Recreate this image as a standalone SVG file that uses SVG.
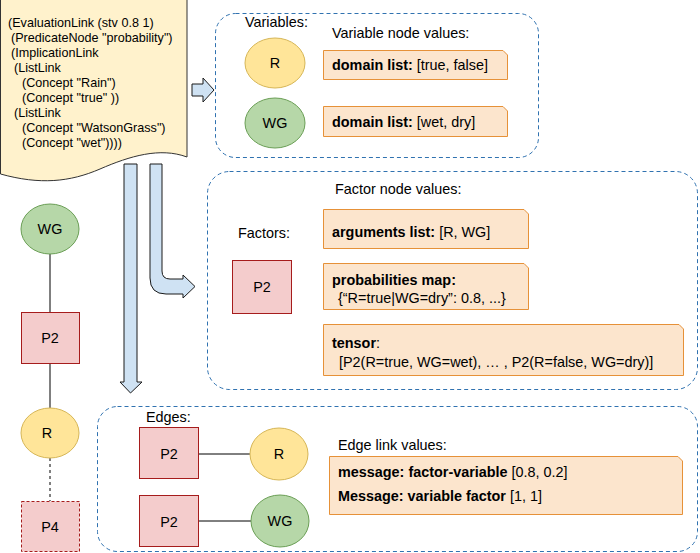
<svg xmlns="http://www.w3.org/2000/svg" width="700" height="553" viewBox="0 0 700 553">
<style>
text{font-family:"Liberation Sans",Arial,sans-serif;fill:#000}
.lbl{font-size:14.4px}
.doc{font-size:12.6px}
.b{font-weight:bold}
.grp{fill:none;stroke:#3072b0;stroke-width:1;stroke-dasharray:4 3}
.note{fill:#fce5cd;stroke:#e69138;stroke-width:1}
.var-r{fill:#ffe599;stroke:#d6b656}
.var-wg{fill:#b6d7a8;stroke:#6a9e55}
.fac{fill:#f4cccc;stroke:#a61c1c}
.arr{fill:#cfe2f3;stroke:#1a1a1a;stroke-width:1}
.edge{stroke:#000;stroke-width:1;fill:none}
</style>

<!-- group containers -->
<rect id="variables-box" class="grp" x="215.5" y="13.5" width="323" height="144" rx="20"/>
<rect id="factors-box" class="grp" x="207.5" y="171.5" width="490" height="218" rx="22"/>
<rect id="edges-box" class="grp" x="97.5" y="406.5" width="600" height="145" rx="20"/>

<g id="connectors">
  <path class="arr" d="M192,84 H203 V78 L214,90 L203,102 V96 H192 Z"/>
  <path class="arr" d="M124,164 H137 V382 H142 L130.5,393 L120,382 H124 Z"/>
  <path class="arr" d="M150,164 H162 V271 Q162,279 170,279 H183 V275 L195,286.5 L183,298 V294 H166 Q150,294 150,278 Z"/>
  <line class="edge" x1="50" y1="254" x2="50" y2="312"/>
  <line class="edge" x1="50" y1="363" x2="50" y2="408"/>
  <line class="edge" x1="50" y1="458" x2="50" y2="501" stroke-dasharray="3 3"/>
  <line class="edge" x1="198" y1="454" x2="250" y2="454"/>
  <line class="edge" x1="198" y1="521" x2="251" y2="521"/>
</g>

<g id="atomese-doc">
  <path d="M0.5,-1 H187 V157 C160,147 130,156 100,169 C70,182 40,185 0.5,174 Z" fill="#fff2cc" stroke="#333" stroke-width="1"/>
  <text class="doc" x="8" y="27">(EvaluationLink (stv 0.8 1)</text>
  <text class="doc" x="11" y="42">(PredicateNode "probability")</text>
  <text class="doc" x="11" y="57">(ImplicationLink</text>
  <text class="doc" x="14" y="72">(ListLink</text>
  <text class="doc" x="22" y="87">(Concept "Rain")</text>
  <text class="doc" x="22" y="102">(Concept "true" ))</text>
  <text class="doc" x="14" y="117">(ListLink</text>
  <text class="doc" x="22" y="132">(Concept "WatsonGrass")</text>
  <text class="doc" x="22" y="147">(Concept "wet"))))</text>
</g>

<g id="labels">
  <text class="lbl" x="245" y="27">Variables:</text>
  <text class="lbl" x="332" y="38">Variable node values:</text>
  <text class="lbl" x="335" y="194">Factor node values:</text>
  <text class="lbl" x="238" y="238">Factors:</text>
  <text class="lbl" x="146" y="422">Edges:</text>
  <text class="lbl" x="338" y="450">Edge link values:</text>
</g>

<g id="var-R">
  <ellipse class="var-r" cx="275" cy="63" rx="30" ry="25"/>
  <text class="lbl" x="275" y="68" text-anchor="middle">R</text>
</g>
<g id="var-WG">
  <ellipse class="var-wg" cx="275" cy="123" rx="30" ry="25"/>
  <text class="lbl" x="275" y="128" text-anchor="middle">WG</text>
</g>

<g id="note-domain-R">
  <path class="note" d="M323.5,50.5 H503 L507.5,55 V79.5 H323.5 Z"/>
  <text class="lbl" x="332" y="70"><tspan class="b">domain list:</tspan> [true, false]</text>
</g>
<g id="note-domain-WG">
  <path class="note" d="M323.5,106.5 H503 L507.5,111 V136.5 H323.5 Z"/>
  <text class="lbl" x="332" y="127"><tspan class="b">domain list:</tspan> [wet, dry]</text>
</g>

<g id="factor-P2">
  <rect class="fac" x="232.5" y="260.5" width="59" height="53"/>
  <text class="lbl" x="262" y="292" text-anchor="middle">P2</text>
</g>

<g id="note-args">
  <path class="note" d="M323.5,209.5 H524 L528.5,214 V248.5 H323.5 Z"/>
  <text class="lbl" x="332" y="237"><tspan class="b">arguments list:</tspan> [R, WG]</text>
</g>
<g id="note-probs">
  <path class="note" d="M323.5,263.5 H524 L528.5,268 V309.5 H323.5 Z"/>
  <text class="lbl b" x="332" y="285">probabilities map:</text>
  <text class="lbl" x="338" y="303">{“R=true|WG=dry”: 0.8, ...}</text>
</g>
<g id="note-tensor">
  <path class="note" d="M323.5,324.5 H679 L683.5,329 V375.5 H323.5 Z"/>
  <text class="lbl" x="332" y="348"><tspan class="b">tensor</tspan>:</text>
  <text class="lbl" x="339" y="367">[P2(R=true, WG=wet), … , P2(R=false, WG=dry)]</text>
</g>

<g id="left-WG">
  <ellipse class="var-wg" cx="50" cy="229" rx="29" ry="25"/>
  <text class="lbl" x="50" y="234" text-anchor="middle">WG</text>
</g>
<g id="left-P2">
  <rect class="fac" x="21.5" y="312.5" width="58" height="51"/>
  <text class="lbl" x="50" y="343" text-anchor="middle">P2</text>
</g>
<g id="left-R">
  <ellipse class="var-r" cx="50" cy="433" rx="29" ry="25"/>
  <text class="lbl" x="47" y="438" text-anchor="middle">R</text>
</g>
<g id="left-P4">
  <rect class="fac" x="21.5" y="501.5" width="58" height="50" stroke-dasharray="3 2"/>
  <text class="lbl" x="50" y="532" text-anchor="middle">P4</text>
</g>

<g id="edge-P2a">
  <rect class="fac" x="139.5" y="427.5" width="59" height="51"/>
  <text class="lbl" x="169" y="459" text-anchor="middle">P2</text>
</g>
<g id="edge-R">
  <ellipse class="var-r" cx="279" cy="454" rx="29" ry="26"/>
  <text class="lbl" x="279" y="459" text-anchor="middle">R</text>
</g>
<g id="edge-P2b">
  <rect class="fac" x="139.5" y="495.5" width="59" height="51"/>
  <text class="lbl" x="169" y="527" text-anchor="middle">P2</text>
</g>
<g id="edge-WG">
  <ellipse class="var-wg" cx="280" cy="521" rx="29" ry="26"/>
  <text class="lbl" x="280" y="526" text-anchor="middle">WG</text>
</g>

<g id="note-edge">
  <path class="note" d="M329.5,456.5 H678 L682.5,461 V514.5 H329.5 Z"/>
  <text class="lbl" x="338" y="477"><tspan class="b">message: factor-variable</tspan> [0.8, 0.2]</text>
  <text class="lbl" x="338" y="501"><tspan class="b">Message: variable factor</tspan> [1, 1]</text>
</g>
</svg>
